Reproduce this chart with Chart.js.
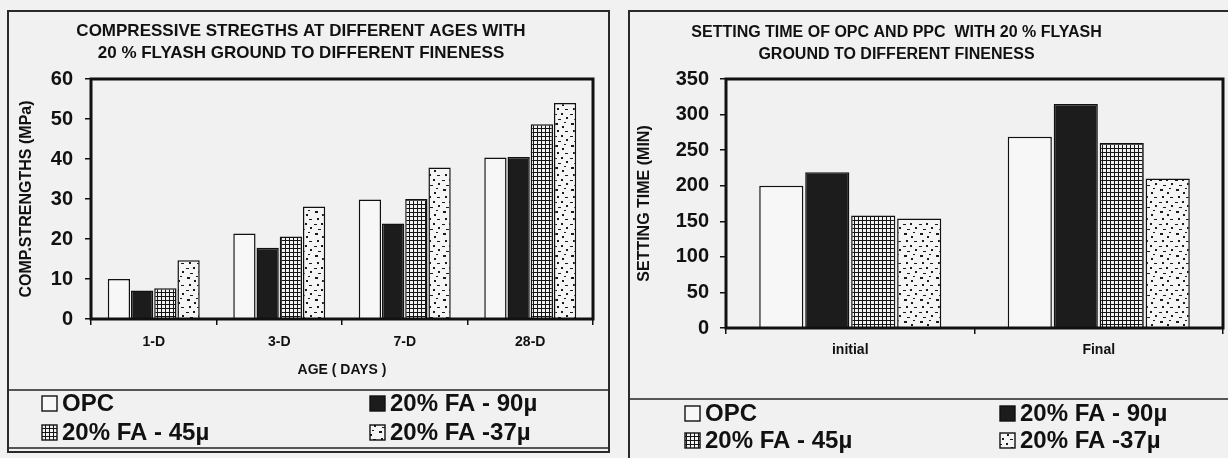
<!DOCTYPE html>
<html>
<head>
<meta charset="utf-8">
<script src="https://cdn.jsdelivr.net/npm/chart.js@4.4.0/dist/chart.umd.min.js"></script>
<style>
	html, body { margin: 0; padding: 0; }
	body { width: 1228px; height: 458px; background: #f1f1f1; position: relative; overflow: hidden; }
	.panel { position: absolute; border: 2px solid #2a2a2a; }
	#left { left: 7px; top: 10px; }
	#right { left: 628px; top: 10px; border-right: none; }
	canvas { display: block; }
</style>
</head>
<body>
<div class="panel" id="left"><canvas id="chart-strength" width="599" height="439"></canvas></div>
<div class="panel" id="right"><canvas id="chart-setting" width="598" height="446"></canvas></div>
<script>
// Data
const seriesNames = ['OPC', '20% FA - 90\u00b5', '20% FA - 45\u00b5', '20% FA -37\u00b5'];

const ages = ['1-D', '3-D', '7-D', '28-D'];
const strengthOPC = [10, 21.4, 29.9, 40.4];
const strength90 = [7.1, 17.8, 23.9, 40.5];
const strength45 = [7.7, 20.6, 30, 48.7];
const strength37 = [14.7, 28.1, 37.9, 54];

const settingStages = ['initial', 'Final'];
const settingOPC = [200, 269];
const setting90 = [219, 315];
const setting45 = [158, 260];
const setting37 = [154, 210];

Chart.defaults.font.family = 'Arial, "Liberation Sans", sans-serif';
Chart.defaults.color = '#111';
Chart.defaults.animation = false;

// Hatch fills like the printed chart
function makeTile(w, h, draw) {
	const c = document.createElement('canvas');
	c.width = w;
	c.height = h;
	const g = c.getContext('2d');
	draw(g);
	return g.createPattern(c, 'repeat');
}

const whiteFill = '#f7f7f7';
const darkFill = '#1c1c1c';
const gridFill = makeTile(4, 4, g => {
	g.fillStyle = '#f2f2f2';
	g.fillRect(0, 0, 4, 4);
	g.fillStyle = '#151515';
	g.fillRect(0, 0, 4, 1);
	g.fillRect(0, 0, 1, 4);
});
const speckFill = makeTile(16, 22, g => {
	g.fillStyle = '#f5f5f5';
	g.fillRect(0, 0, 16, 22);
	g.fillStyle = '#1a1a1a';
	[[2, 1, 3, 2], [9, 4, 2, 2], [12, 9, 3, 1], [4, 8, 2, 2], [1, 14, 3, 1], [8, 13, 2, 2], [13, 17, 2, 2], [5, 19, 3, 1], [11, 0, 2, 1]]
		.forEach(r => g.fillRect(r[0], r[1], r[2], r[3]));
});
const fills = [whiteFill, darkFill, gridFill, speckFill];

// thick box round the plot area
const plotFrame = {
	id: 'plotFrame',
	afterDatasetsDraw(chart) {
		const { ctx, chartArea: a } = chart;
		ctx.save();
		ctx.strokeStyle = '#111';
		ctx.lineWidth = 3;
		ctx.strokeRect(a.left, a.top, a.right - a.left, a.bottom - a.top);
		ctx.restore();
	},
};

// 2 x 2 legend under a rule, as in the print
const legendGrid = {
	id: 'legendGrid',
	afterDraw(chart, args, opts) {
		const { ctx } = chart;
		ctx.save();
		ctx.strokeStyle = '#222';
		ctx.lineWidth = 1.5;
		opts.lines.forEach(y => {
			ctx.beginPath();
			ctx.moveTo(0, y);
			ctx.lineTo(chart.width, y);
			ctx.stroke();
		});
		ctx.font = 'bold 24px Arial, "Liberation Sans", sans-serif';
		ctx.textBaseline = 'middle';
		chart.data.datasets.forEach((ds, i) => {
			const x = opts.cols[i % 2];
			const y = opts.rows[Math.floor(i / 2)];
			ctx.fillStyle = ds.backgroundColor;
			ctx.fillRect(x, y - 7, 15, 15);
			ctx.strokeStyle = '#111';
			ctx.lineWidth = 1.4;
			ctx.strokeRect(x, y - 7, 15, 15);
			ctx.fillStyle = '#111';
			ctx.fillText(ds.label, x + 20, y + 1);
		});
		ctx.restore();
	},
};

function barSets(values) {
	return values.map((data, i) => ({
		label: seriesNames[i],
		data: data,
		backgroundColor: fills[i],
		borderColor: '#111',
		borderWidth: 1.5,
		categoryPercentage: 0.74,
		barPercentage: 0.96,
	}));
}

// Compressive strength
!(function () {
	const ctx = document.getElementById('chart-strength');

	new Chart(ctx, {
		type: 'bar',
		data: {
			labels: ages,
			datasets: barSets([strengthOPC, strength90, strength45, strength37]),
		},
		options: {
			responsive: false,
			layout: { padding: { left: 0, right: 15, top: 0, bottom: 61 } },
			scales: {
				x: {
					ticks: { font: { size: 14, weight: 'bold' }, padding: 9 },
					grid: { drawOnChartArea: false, tickLength: 6, color: '#111', lineWidth: 1.5 },
					border: { display: false },
					title: {
						display: true,
						text: 'AGE ( DAYS )',
						font: { size: 14, weight: 'bold' },
						padding: { top: 0, bottom: 11 },
					},
					afterFit(s) { s.height = 71; },
				},
				y: {
					min: 0,
					max: 60,
					ticks: { stepSize: 10, font: { size: 20, weight: 'bold' }, padding: 12 },
					grid: { drawOnChartArea: false, tickLength: 6, color: '#111', lineWidth: 1.5 },
					border: { display: false },
					title: {
						display: true,
						text: 'COMP.STRENGTHS (MPa)',
						font: { size: 16, weight: 'bold' },
						padding: { top: 8, bottom: 0 },
					},
					afterFit(s) { s.width = 82; },
				},
			},
			plugins: {
				legend: { display: false },
				tooltip: { enabled: false },
				title: {
					display: true,
					text: ['COMPRESSIVE STREGTHS AT DIFFERENT AGES WITH', '20 % FLYASH GROUND TO DIFFERENT FINENESS'],
					font: { size: 17, weight: 'bold', lineHeight: '22px' },
					color: '#111',
					padding: { top: 8, bottom: 15 },
				},
				legendGrid: { lines: [378, 436], rows: [391, 420], cols: [33, 361] },
			},
		},
		plugins: [plotFrame, legendGrid],
	});
})();

// Setting time
!(function () {
	const ctx = document.getElementById('chart-setting');

	new Chart(ctx, {
		type: 'bar',
		data: {
			labels: settingStages,
			datasets: barSets([settingOPC, setting90, setting45, setting37]),
		},
		options: {
			responsive: false,
			// negative left padding pulls the title off-centre like the print
			layout: { padding: { left: -60, right: 5, top: 0, bottom: 59 } },
			scales: {
				x: {
					ticks: { font: { size: 14, weight: 'bold' }, padding: 8 },
					grid: { drawOnChartArea: false, tickLength: 6, color: '#111', lineWidth: 1.5 },
					border: { display: false },
					afterFit(s) { s.height = 71; },
				},
				y: {
					min: 0,
					max: 350,
					ticks: { stepSize: 50, font: { size: 20, weight: 'bold' }, padding: 11 },
					grid: { drawOnChartArea: false, tickLength: 6, color: '#111', lineWidth: 1.5 },
					border: { display: false },
					title: {
						display: true,
						text: 'SETTING TIME (MIN)',
						font: { size: 16, weight: 'bold' },
						padding: { top: 65, bottom: 0 },
					},
					afterFit(s) { s.width = 156; },
				},
			},
			plugins: {
				legend: { display: false },
				tooltip: { enabled: false },
				title: {
					display: true,
					text: ['SETTING TIME OF OPC AND PPC  WITH 20 % FLYASH', 'GROUND TO DIFFERENT FINENESS'],
					font: { size: 16, weight: 'bold', lineHeight: '22px' },
					color: '#111',
					padding: { top: 10, bottom: 13 },
				},
				legendGrid: { lines: [387], rows: [401, 428], cols: [55, 370] },
			},
		},
		plugins: [plotFrame, legendGrid],
	});
})();
</script>
</body>
</html>
